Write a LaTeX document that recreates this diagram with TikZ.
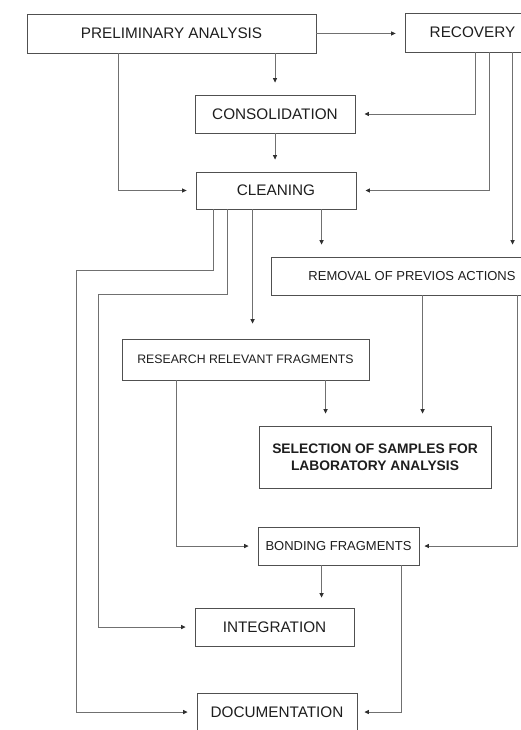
\documentclass[tikz,border=0pt]{standalone}
\usepackage{fontspec}
\setmainfont{Liberation Sans}
\usetikzlibrary{arrows.meta,calc}
\definecolor{txt}{HTML}{1E1E1E}
\definecolor{boxc}{HTML}{505050}
\definecolor{linec}{HTML}{707070}
\definecolor{tipc}{HTML}{303030}
\begin{document}
\begin{tikzpicture}[x=1pt,y=-1pt,
  box/.style={draw=boxc,line width=0.9pt,rectangle,inner sep=0pt,text=txt,align=center,
    font=\fontsize{15.3}{18}\selectfont},
  arr/.style={draw=linec,line width=0.8pt,-{Triangle[length=4.5pt,width=4.2pt,color=tipc]},shorten >=9pt},
  varr/.style={arr,shorten >=12pt}]
\path[use as bounding box,clip] (0,0) rectangle (521,730);
\fill[white] (0,0) rectangle (521,730);

\node[box,minimum width=289pt,minimum height=39pt] (prelim) at (171.5,33.5) {PRELIMINARY ANALYSIS};
\node[box,minimum width=135pt,minimum height=39pt] (recovery) at (472.5,32.5) {RECOVERY};
\node[box,minimum width=160pt,minimum height=38pt] (consol) at (275,114) {CONSOLIDATION};
\node[box,minimum width=160pt,minimum height=37pt] (cleaning) at (276,190.5) {CLEANING};
\node[box,minimum width=282pt,minimum height=38pt,font=\fontsize{13}{15}\selectfont] (removal) at (412,276) {REMOVAL OF PREVIOS ACTIONS};
\node[box,minimum width=247pt,minimum height=41pt,font=\fontsize{12.3}{15}\selectfont] (research) at (245.5,359.5) {RESEARCH RELEVANT FRAGMENTS};
\node[box,minimum width=232pt,minimum height=62pt,font=\bfseries\fontsize{13.8}{17}\selectfont] (selection) at (375,457) {SELECTION OF SAMPLES FOR\\LABORATORY ANALYSIS};
\node[box,minimum width=161pt,minimum height=38pt,font=\fontsize{13}{15}\selectfont] (bonding) at (338.5,546) {BONDING FRAGMENTS};
\node[box,minimum width=159pt,minimum height=38pt] (integration) at (274.5,627) {INTEGRATION};
\node[box,minimum width=160pt,minimum height=38pt] (documentation) at (277,712) {DOCUMENTATION};

% start points
\coordinate (p1) at ($(prelim.south west)+(92,0)$);
\coordinate (r1) at ($(recovery.south west)+(71,0)$);
\coordinate (r2) at ($(recovery.south west)+(85,0)$);
\coordinate (r3) at ($(recovery.south west)+(108,0)$);
\coordinate (c1) at ($(cleaning.south west)+(18,0)$);
\coordinate (c2) at ($(cleaning.south west)+(32,0)$);
\coordinate (c3) at ($(cleaning.south west)+(57,0)$);
\coordinate (c4) at ($(cleaning.south west)+(126,0)$);
\coordinate (rs1) at ($(research.south west)+(55,0)$);
\coordinate (rs2) at ($(research.south west)+(204,0)$);
\coordinate (rm1) at ($(removal.south west)+(152,0)$);
\coordinate (rm2) at ($(removal.south west)+(247,0)$);
\coordinate (b1) at ($(bonding.south west)+(64,0)$);
\coordinate (b2) at ($(bonding.south west)+(144,0)$);
% bends
\coordinate (k1) at ($(c1)+(0,61)$);
\coordinate (k1b) at (76,0);
\coordinate (k2) at ($(c2)+(0,85)$);
\coordinate (k2b) at (98,0);

\draw[arr] (prelim.east) -- (recovery.west |- prelim.east);
\draw[varr] (consol.north |- prelim.south) -- (consol.north);
\draw[arr] (p1) |- (cleaning.west);
\draw[arr] (r1) |- (consol.east);
\draw[arr] (r2) |- (cleaning.east);
\draw[varr] (r3) -- (r3 |- removal.north);
\draw[varr] (consol.south) -- (consol.south |- cleaning.north);
\draw[varr] (c4) -- (c4 |- removal.north);
\draw[arr] (c1) -- (k1) -- (k1 -| k1b) |- (documentation.west);
\draw[arr] (c2) -- (k2) -- (k2 -| k2b) |- (integration.west);
\draw[varr,shorten >=15pt] (c3) -- (c3 |- research.north);
\draw[varr] (rs2) -- (rs2 |- selection.north);
\draw[varr] (rm1) -- (rm1 |- selection.north);
\draw[arr] (rs1) |- (bonding.west);
\draw[arr,shorten >=5pt] (rm2) |- (bonding.east);
\draw[varr,shorten >=10pt] (b1) -- (b1 |- integration.north);
\draw[arr,shorten >=7pt] (b2) |- (documentation.east);
\end{tikzpicture}
\end{document}
